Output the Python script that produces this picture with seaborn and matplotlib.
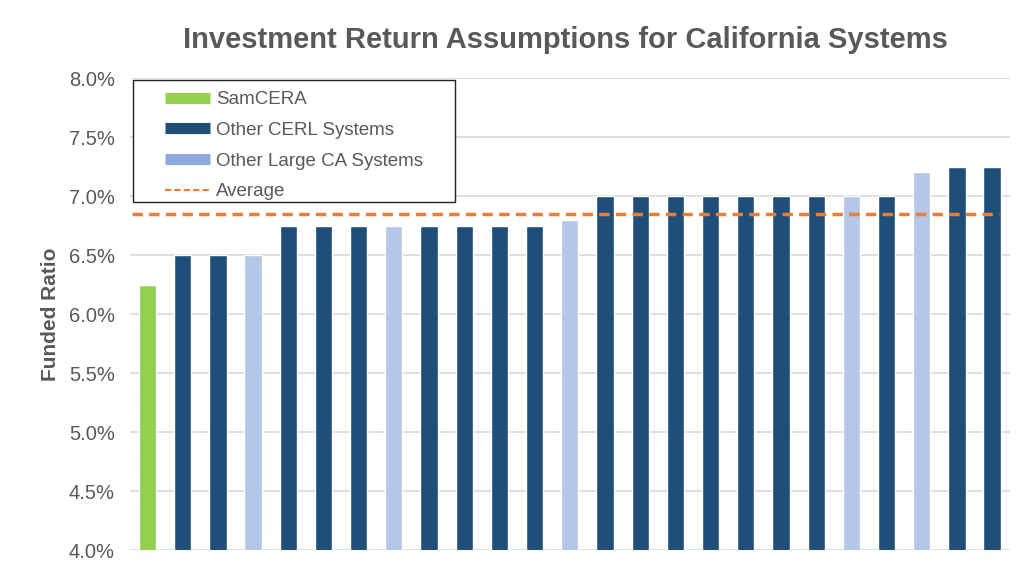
import numpy as np
import pandas as pd
import matplotlib
import seaborn as sns
from matplotlib import pyplot as plt
from matplotlib.lines import Line2D
from matplotlib.patches import Rectangle

matplotlib.use('Agg')

# data
systems = [f'S{i + 1}' for i in range(25)]
returns = [6.25, 6.50, 6.50, 6.50, 6.75, 6.75, 6.75, 6.75, 6.75, 6.75,
           6.75, 6.75, 6.80, 7.00, 7.00, 7.00, 7.00, 7.00, 7.00, 7.00,
           7.00, 7.00, 7.20, 7.25, 7.25]
groups = ['SamCERA', 'CERL', 'CERL', 'Large', 'CERL', 'CERL', 'CERL', 'Large',
          'CERL', 'CERL', 'CERL', 'CERL', 'Large', 'CERL', 'CERL', 'CERL',
          'CERL', 'CERL', 'CERL', 'CERL', 'Large', 'CERL', 'Large', 'CERL',
          'CERL']

GRAY = '#595959'
palette = {'SamCERA': '#92d050', 'CERL': '#1f4e79', 'Large': '#b4c7e7'}

df = pd.DataFrame({'system': systems, 'ret': returns, 'group': groups})
avg = np.mean(returns)

sns.set_style('white')
plt.rcParams['font.family'] = ['Liberation Sans', 'DejaVu Sans']

fig = plt.figure(figsize=(10.23, 5.7), dpi=100)
ax = fig.add_axes([0.127, 0.035, 0.860, 0.828])

for y in np.arange(4.0, 8.01, 0.5):
    ax.axhline(y, color='#d9d9d9', lw=1.2, zorder=0)

sns.barplot(data=df, x='system', y='ret', hue='group', palette=palette,
            dodge=False, width=0.49, saturation=1, legend=False, ax=ax,
            zorder=2)

ax.plot([-0.45, len(returns) - 0.8], [avg, avg], color='#ed7d31', lw=2.5,
        dashes=(3, 1.8), zorder=3)

ax.set_ylim(4.0, 8.0)
ax.set_xlim(-0.5, len(returns) - 0.5)
ax.set_yticks(np.arange(4.0, 8.01, 0.5))
ax.set_yticklabels([f'{v:.1f}%' for v in np.arange(4.0, 8.01, 0.5)],
                   color=GRAY, fontsize=14.5)
ax.set_xticks([])
ax.set_xlabel('')
ax.set_ylabel('Funded Ratio', color=GRAY, fontsize=15, fontweight='bold',
              labelpad=6)
ax.tick_params(axis='y', length=0, pad=11)
for s in ['top', 'right', 'left', 'bottom']:
    ax.spines[s].set_visible(False)

fig.text(0.553, 0.93, 'Investment Return Assumptions for California Systems',
         ha='center', va='center', color=GRAY, fontsize=21, fontweight='bold')

# legend frame drawn separately so it can be wider than its entries
ax.add_patch(Rectangle((0.0034, 0.737), 0.366, 0.2585, transform=ax.transAxes,
                       facecolor='white', edgecolor='#222222', lw=1.0,
                       zorder=4))

handles = [
    Line2D([], [], color='#92d050', lw=8, solid_capstyle='butt'),
    Line2D([], [], color='#1f4e79', lw=8, solid_capstyle='butt'),
    Line2D([], [], color='#8faadc', lw=8, solid_capstyle='butt'),
    Line2D([], [], color='#ed7d31', lw=1.5, ls=(0, (3, 1.5))),
]
labels = ['SamCERA', 'Other CERL Systems', 'Other Large CA Systems', 'Average']
leg = ax.legend(handles, labels, loc='upper left', bbox_to_anchor=(0.040, 0.972),
                fontsize=13.5, frameon=False, borderpad=0, labelspacing=0.72,
                handlelength=2.4, handletextpad=0.3, borderaxespad=0)
for t in leg.get_texts():
    t.set_color(GRAY)
leg.set_zorder(5)

fig.savefig('out.png', dpi=100, facecolor='white')
